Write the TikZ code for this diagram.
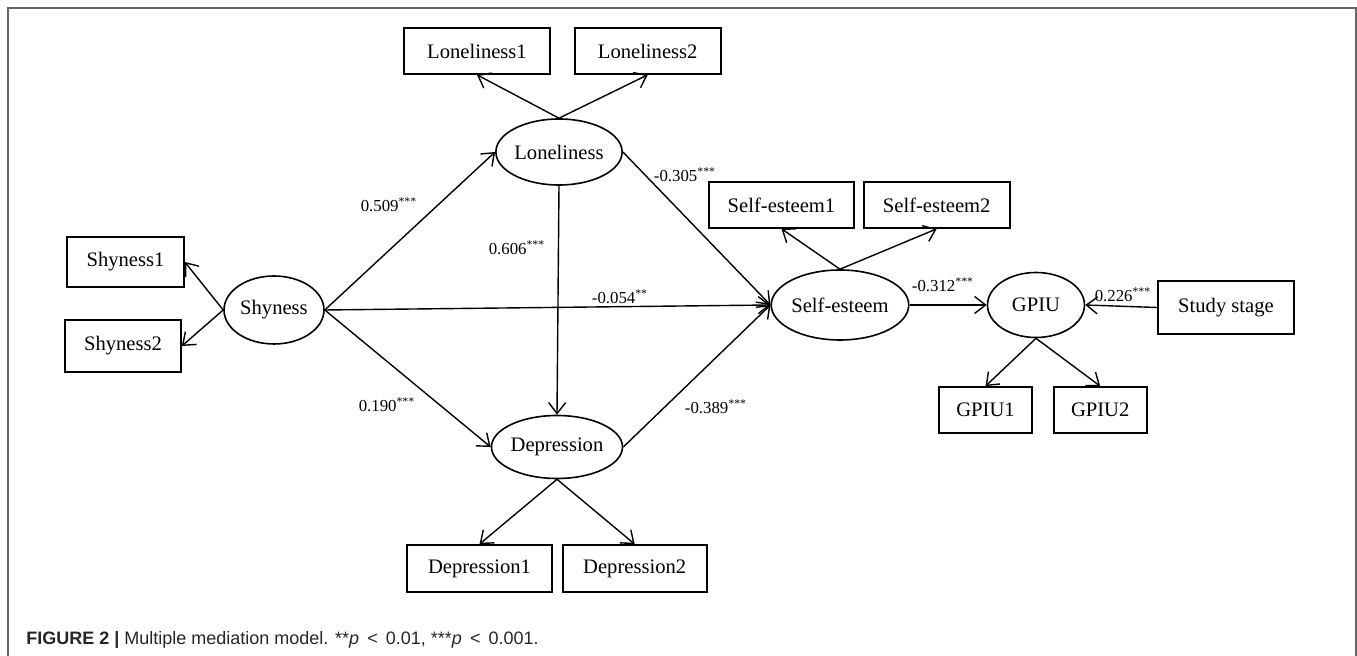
\documentclass[tikz,border=0pt]{standalone}
\usepackage{fontspec}
\setmainfont{Liberation Serif}
\newfontfamily\capfont{Liberation Sans}
\usetikzlibrary{positioning,arrows.meta,shapes.geometric}

\begin{document}
\begin{tikzpicture}[
    x=0.5pt, y=-0.5pt,
    font=\fontsize{10.3}{12}\selectfont,
    obs/.style={draw, line width=0.85pt, minimum width=73pt, minimum height=23pt, inner sep=2pt},
    lat/.style={draw, ellipse, line width=0.8pt, inner sep=0pt},
    op/.style={-{Straight Barb[length=5.5pt, width=8.5pt]}, line width=0.7pt},
    coef/.style={font=\fontsize{8.4}{10}\selectfont, inner sep=1pt},
  ]
  \useasboundingbox (0,0) rectangle (1357,656);
  % --- frame ---
  \draw[black!60, line width=1pt] (8,656) -- (8,8) -- (1356,8) -- (1356,656);

  % --- latent variables ---
  \node[lat, minimum width=50pt, minimum height=34pt] (shy) at (274,310) {Shyness};
  \node[lat, minimum width=55pt, minimum height=33pt] (lon) at (559,152) {Loneliness};
  \node[lat, minimum width=56.5pt, minimum height=31.5pt] (dep) at (557,447) {Depression};
  \node[lat, minimum width=59pt, minimum height=35pt] (se) at (840,305) {Self-esteem};
  \node[lat, minimum width=48.5pt, minimum height=32.5pt] (gpiu) at (1036,305) {GPIU};

  % --- indicators ---
  \node[obs] (l1) at (477,51) {Loneliness1};
  \node[obs, right=11.5pt of l1] (l2) {Loneliness2};
  \node[obs, minimum width=58.5pt, minimum height=25pt] (shy1) at (125.5,262) {Shyness1};
  \node[obs, minimum width=58pt, minimum height=26pt] (shy2) at (123,346) {Shyness2};
  \node[obs, minimum width=72.5pt] (se1) at (781.5,205) {Self-esteem1};
  \node[obs, right=4pt of se1] (se2) {Self-esteem2};
  \node[obs, minimum width=46.5pt] (g1) at (985.5,410) {GPIU1};
  \node[obs, minimum width=46.5pt, right=10pt of g1] (g2) {GPIU2};
  \node[obs, minimum width=72.5pt, minimum height=23.5pt] (d1) at (479.5,568.5) {Depression1};
  \node[obs, minimum width=72pt, minimum height=23.5pt, right=4.5pt of d1] (d2) {Depression2};
  \node[obs, minimum width=68pt, minimum height=26.5pt] (study) at (1226,307.5) {Study stage};

  % --- measurement arrows ---
  \draw[op] (lon.north) -- (l1.south);
  \draw[op] (lon.north) -- (l2.south);
  \draw[op] (shy.west) -- (shy1.east);
  \draw[op] (shy.west) -- (shy2.east);
  \draw[op] (se.north) -- (se1.south);
  \draw[op] (se.north) -- (se2.south);
  \draw[op] (gpiu.south) -- (g1.north);
  \draw[op] (gpiu.south) -- (g2.north);
  \draw[op] (dep.south) -- (d1.north);
  \draw[op] (dep.south) -- (d2.north);

  % --- structural paths ---
  \draw[op] (shy.east) -- (lon.west);
  \draw[op] (shy.east) -- (se.west);
  \draw[op] (shy.east) -- (dep.west);
  \draw[op] (lon.south) -- (dep.north);
  \draw[op] (lon.east) -- (se.west);
  \draw[op] (dep.east) -- (se.west);
  \draw[op] (se.east) -- (gpiu.west);
  \draw[op] (study.west) -- (gpiu.east);

  % --- coefficients ---
  \node[coef] (c509) at (389,205) {0.509\textsuperscript{***}};
  \node[coef] (c606) at (517,248) {0.606\textsuperscript{***}};
  \node[coef] (c054) at (620,297) {-0.054\textsuperscript{**}};
  \node[coef] (c305) at (685,175) {-0.305\textsuperscript{***}};
  \node[coef] (c190) at (387,405) {0.190\textsuperscript{***}};
  \node[coef] (c389) at (716,407) {-0.389\textsuperscript{***}};
  \node[coef] (c312) at (943,285) {-0.312\textsuperscript{***}};
  \node[coef] (c226) at (1123,295) {0.226\textsuperscript{***}};

  % --- caption ---
  \node[anchor=base west, inner sep=0pt, text=black!85,
        font=\capfont\fontsize{9}{11}\selectfont] (cap) at (26,645)
    {\textbf{FIGURE 2 |} Multiple mediation model. **\textit{p}\hspace{0.45em}<\hspace{0.45em}0.01, ***\textit{p}\hspace{0.45em}<\hspace{0.45em}0.001.};
\end{tikzpicture}
\end{document}
